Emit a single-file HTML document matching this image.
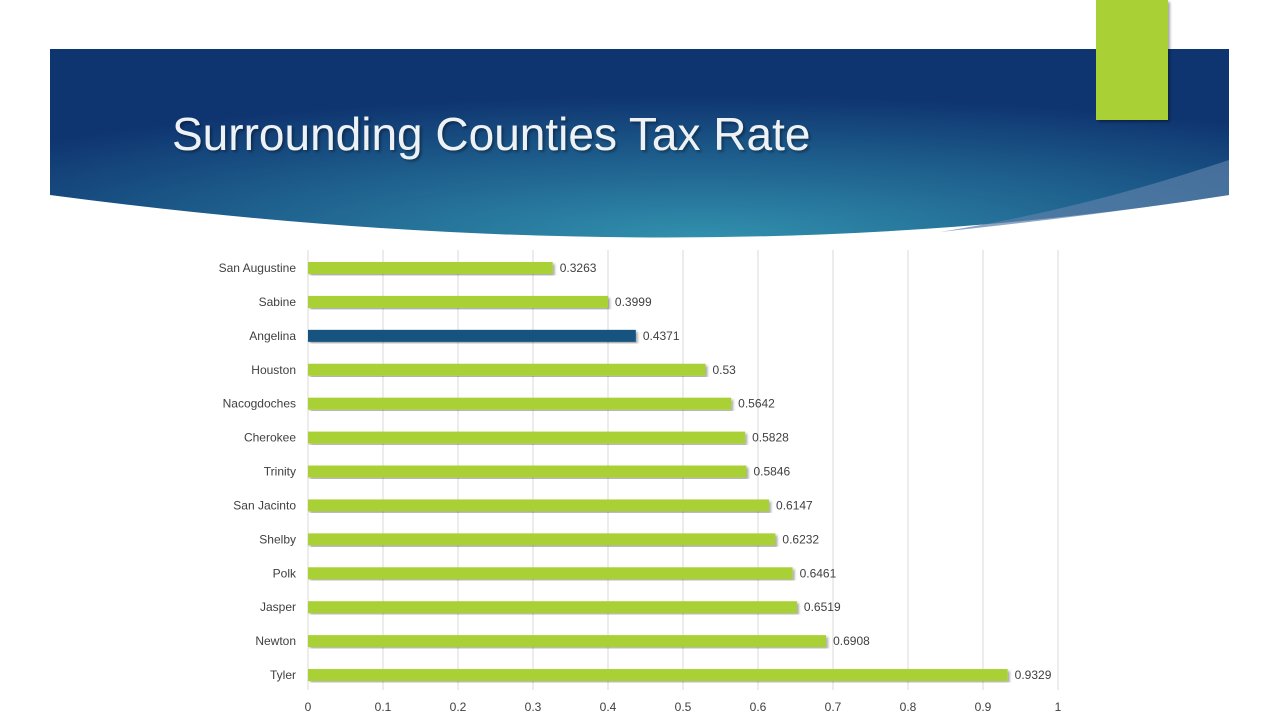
<!DOCTYPE html>
<html><head><meta charset="utf-8"><style>
body{margin:0;width:1280px;height:720px;overflow:hidden;background:#fff;font-family:"Liberation Sans",sans-serif}
</style></head><body>
<svg width="1280" height="720">
<defs>
<radialGradient id="bg" cx="0.55" cy="1" r="0.75">
<stop offset="0" stop-color="#3190ad"/><stop offset="0.55" stop-color="#1e5f8d"/><stop offset="1" stop-color="#0f3570"/>
</radialGradient>
<filter id="sh"><feDropShadow dx="2" dy="2" stdDeviation="1.2" flood-color="#000" flood-opacity="0.35"/></filter>
</defs>
<path d="M50,49 H1229 V195 Q690,280 50,195 Z" fill="url(#bg)"/>
<path d="M1229,160 Q1080,210 940,232 Q1100,215 1229,195 Z" fill="#5b7fa8" opacity="0.7"/>
<rect x="1096" y="0" width="72" height="120" fill="#a9d134" filter="url(#sh)"/>
<text x="172" y="150" font-size="46" fill="#eef2f5" filter="url(#sh)">Surrounding Counties Tax Rate</text>
<g id="chart"></g>
</svg>
<script>
const categories=["San Augustine","Sabine","Angelina","Houston","Nacogdoches","Cherokee","Trinity","San Jacinto","Shelby","Polk","Jasper","Newton","Tyler"];
const values=[0.3263,0.3999,0.4371,0.53,0.5642,0.5828,0.5846,0.6147,0.6232,0.6461,0.6519,0.6908,0.9329];
const labels=["0.3263","0.3999","0.4371","0.53","0.5642","0.5828","0.5846","0.6147","0.6232","0.6461","0.6519","0.6908","0.9329"];
const ticks=[0,0.1,0.2,0.3,0.4,0.5,0.6,0.7,0.8,0.9,1];
const tickLabels=["0","0.1","0.2","0.3","0.4","0.5","0.6","0.7","0.8","0.9","1"];
const highlight="Angelina";
const NS="http://www.w3.org/2000/svg";
const g=document.getElementById("chart");
const x=v=>308+v*750;
const y=i=>268+i*33.92;
function mk(t,a){const e=document.createElementNS(NS,t);for(const k in a)e.setAttribute(k,a[k]);g.appendChild(e);return e;}
ticks.forEach((t,i)=>{
 const l=mk("line",{x1:x(t),x2:x(t),y1:250,y2:690,stroke:"#d9d9d9","stroke-width":1});
 
 
 const tx=mk("text",{x:x(t),y:711,"font-size":12,fill:"#404040","text-anchor":"middle"});
 tx.textContent=tickLabels[i];
 
 
});
categories.forEach((c,i)=>{
 const b=mk("rect",{x:x(0),y:y(i)-6,width:x(values[i])-x(0),height:12,fill:c===highlight?"#14527e":"#a9d134",filter:"url(#sh)"});
 
 
 const cl=mk("text",{x:296,y:y(i)+4,"font-size":12,fill:"#404040","text-anchor":"end"});
 cl.textContent=c;
 
 
 const vl=mk("text",{x:x(values[i])+7,y:y(i)+4,"font-size":12,fill:"#404040"});
 vl.textContent=labels[i];
 
 
});
</script>
</body></html>
